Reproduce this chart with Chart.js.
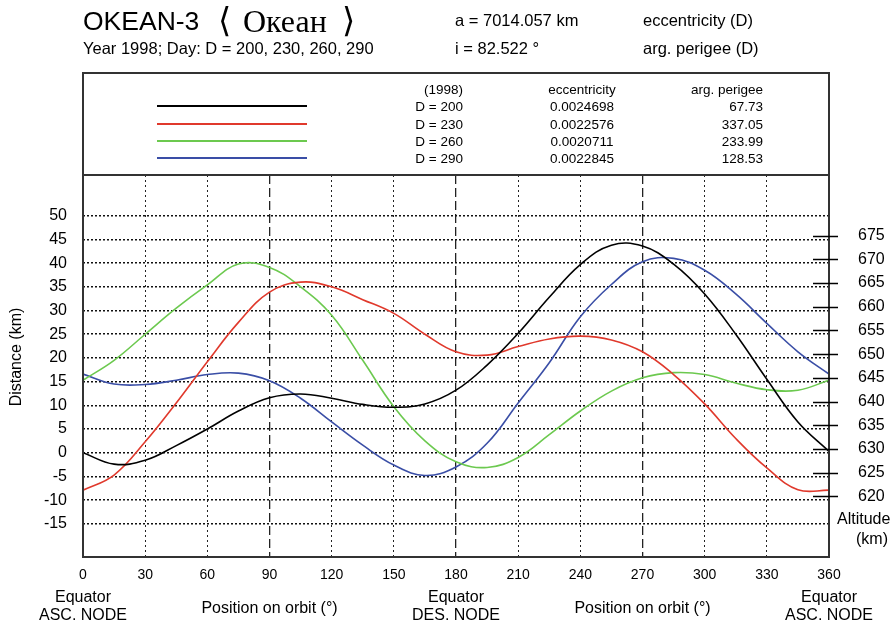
<!DOCTYPE html>
<html>
<head>
<meta charset="utf-8">
<script src="https://cdn.jsdelivr.net/npm/chart.js@4"></script>
<style>
  html, body { margin: 0; padding: 0; background: #fff; }
  #wrap { position: relative; width: 892px; height: 626px; overflow: hidden; }
  #c { position: absolute; left: 0; top: 0; }
  .t { position: absolute; white-space: nowrap; font-family: "Liberation Sans", Arial, sans-serif; color: #000; transform: translateY(-50%); }
  .r { transform: translate(-100%, -50%); }
  .m { transform: translate(-50%, -50%); }
  .sw { position: absolute; height: 2px; width: 150px; transform: translateY(-50%); }
</style>
</head>
<body>
<div id="wrap">
  <canvas id="c" width="892" height="626"></canvas>
  <div id="hdr"></div>
</div>
<script>
// position on orbit (deg)
var angles = [0, 15, 30, 45, 60, 75, 90, 105, 120, 135, 150, 165, 180, 195, 210, 225, 240, 255, 270, 285, 300, 315, 330, 345, 360];

// distance (km) per day
var d200 = [0, -2.4, -1.6, 1.5, 5, 8.8, 11.6, 12.4, 11.5, 10.2, 9.6, 10.3, 13.2, 18.5, 25.2, 32.8, 39.7, 43.8, 43.6, 39.8, 33.5, 25, 15.5, 6.5, 0.3];
var d230 = [-7.9, -4.7, 2.3, 10.5, 19.2, 27.5, 33.9, 36.0, 35.0, 32.3, 29.4, 25.0, 21.3, 20.6, 22.4, 24.0, 24.6, 23.8, 21.3, 16.5, 10.3, 3.0, -3.2, -7.8, -7.9];
var d260 = [15.3, 19.5, 25, 30.5, 35.4, 39.8, 39.1, 35, 29, 19.5, 9.7, 2.5, -1.9, -3.1, -1, 3.8, 8.8, 13, 15.8, 16.9, 16.5, 14.7, 13.3, 13.2, 15.3];
var d290 = [16.6, 14.5, 14.4, 15.3, 16.5, 16.8, 15.2, 11.5, 6.5, 1.6, -2.6, -4.8, -3.0, 2.0, 10.5, 19, 28.7, 35.5, 40.3, 41.0, 38.5, 33.5, 27.3, 21.3, 16.6];

var days = ["D = 200", "D = 230", "D = 260", "D = 290"];
var ecc = ["0.0024698", "0.0022576", "0.0020711", "0.0022845"];
var perigee = ["67.73", "337.05", "233.99", "128.53"];
var colors = ["#000000", "#e0392c", "#6cc94f", "#3a4ea6"];

var xTicks = [0, 30, 60, 90, 120, 150, 180, 210, 240, 270, 300, 330, 360];
var distTicks = [-15, -10, -5, 0, 5, 10, 15, 20, 25, 30, 35, 40, 45, 50];
var altTicks = [620, 625, 630, 635, 640, 645, 650, 655, 660, 665, 670, 675];
var altOffset = 629.2;
var yMin = -22, yMax = 58.6;

// header + legend table (html text)
var hdr = document.getElementById("hdr");
function txt(s, x, y, size, cls, extra) {
  var d = document.createElement("div");
  d.className = "t " + (cls || "");
  d.style.left = x + "px";
  d.style.top = y + "px";
  d.style.fontSize = size + "px";
  if (extra) d.style.cssText += extra;
  d.textContent = s;
  hdr.appendChild(d);
}
txt("OKEAN-3", 83, 21, 26.5);
txt("\u27E8", 218, 20, 34, "", "font-family:'DejaVu Serif',serif;");
txt("\u041E\u043A\u0435\u0430\u043D", 243, 21, 32, "", "font-family:'Liberation Serif',serif;");
txt("\u27E9", 342, 20, 34, "", "font-family:'DejaVu Serif',serif;");
txt("Year 1998; Day: D = 200, 230, 260, 290", 83, 48, 16.5);
txt("a = 7014.057 km", 455, 20, 16.5);
txt("i = 82.522 \u00B0", 455, 48, 16.5);
txt("eccentricity (D)", 643, 20, 16.5);
txt("arg. perigee (D)", 643, 48, 16.5);

txt("(1998)", 463, 89, 13.5, "r");
txt("eccentricity", 582, 89, 13.5, "m");
txt("arg. perigee", 763, 89, 13.5, "r");
var rowY = [106, 123.5, 140.5, 158];
for (var i = 0; i < days.length; i++) {
  txt(days[i], 463, rowY[i], 13.5, "r");
  txt(ecc[i], 582, rowY[i], 13.5, "m");
  txt(perigee[i], 763, rowY[i], 13.5, "r");
  var sw = document.createElement("div");
  sw.className = "sw";
  sw.style.left = "157px";
  sw.style.top = rowY[i] + "px";
  sw.style.background = colors[i];
  hdr.appendChild(sw);
}

function pts(arr) {
  return angles.map(function (a, k) { return { x: a, y: arr[k] }; });
}

var series = [d200, d230, d260, d290];
var datasets = series.map(function (s, k) {
  return {
    label: days[k],
    data: pts(s),
    borderColor: colors[k],
    backgroundColor: colors[k],
    borderWidth: 1.6,
    pointRadius: 0,
    fill: false,
    tension: 0.4
  };
});

var frame = {
  id: "frame",
  beforeDraw: function (chart) {
    var ctx = chart.ctx;
    ctx.save();
    ctx.fillStyle = "#fff";
    ctx.fillRect(0, 0, chart.width, chart.height);
    ctx.restore();
  },
  afterDraw: function (chart) {
    var ctx = chart.ctx, a = chart.chartArea;
    var xs = chart.scales.x, ys2 = chart.scales.y2;
    ctx.save();
    // frames
    ctx.strokeStyle = "#333";
    ctx.lineWidth = 2;
    ctx.strokeRect(a.left, 73, a.right - a.left, a.bottom - 73);
    ctx.beginPath();
    ctx.moveTo(a.left, a.top);
    ctx.lineTo(a.right, a.top);
    ctx.stroke();
    // altitude tick marks
    ctx.strokeStyle = "#000";
    ctx.lineWidth = 1.5;
    altTicks.forEach(function (v) {
      var y = Math.round(ys2.getPixelForValue(v)) + 0.5;
      ctx.beginPath();
      ctx.moveTo(a.right - 16, y);
      ctx.lineTo(a.right + 9, y);
      ctx.stroke();
    });
    // texts
    ctx.fillStyle = "#000";
    ctx.font = "16px 'Liberation Sans', Arial, sans-serif";
    ctx.textAlign = "center";
    ctx.textBaseline = "middle";
    var nodes = [[0, "ASC. NODE"], [180, "DES. NODE"], [360, "ASC. NODE"]];
    nodes.forEach(function (n) {
      var x = xs.getPixelForValue(n[0]);
      ctx.fillText("Equator", x, 598);
      ctx.fillText(n[1], x, 616);
    });
    [90, 270].forEach(function (v) {
      ctx.fillText("Position on orbit (\u00B0)", xs.getPixelForValue(v), 609);
    });
    ctx.textAlign = "left";
    ctx.fillText("Altitude", 837, 520);
    ctx.fillText("(km)", 856, 540);
    ctx.translate(17, 357);
    ctx.rotate(-Math.PI / 2);
    ctx.textAlign = "center";
    ctx.fillText("Distance (km)", 0, 0);
    ctx.restore();
  }
};

var ctx = document.getElementById("c").getContext("2d");
new Chart(ctx, {
  type: "line",
  data: { datasets: datasets },
  options: {
    responsive: false,
    animation: false,
    layout: { padding: { top: 175, left: 0, right: 0, bottom: 0 } },
    plugins: { legend: { display: false }, tooltip: { enabled: false } },
    scales: {
      x: {
        type: "linear",
        min: 0,
        max: 360,
        afterBuildTicks: function (s) { s.ticks = xTicks.map(function (v) { return { value: v }; }); },
        afterFit: function (s) { s.height = 69; },
        ticks: { padding: 10, color: "#000", maxRotation: 0, autoSkip: false, font: { size: 14, family: "'Liberation Sans', Arial, sans-serif" } },
        grid: {
          drawTicks: false,
          color: function (c) { return (c.tick && (c.tick.value === 0 || c.tick.value === 360)) ? "rgba(0,0,0,0)" : "#222"; },
          lineWidth: function (c) { return (c.tick && c.tick.value % 90 === 0) ? 1.3 : 1; }
        },
        border: {
          display: false,
          dash: function (c) { return (c.tick && c.tick.value % 90 === 0) ? [9, 4] : [2, 3]; }
        }
      },
      y: {
        type: "linear",
        position: "left",
        min: yMin,
        max: yMax,
        afterBuildTicks: function (s) { s.ticks = distTicks.map(function (v) { return { value: v }; }); },
        afterFit: function (s) { s.width = 83; },
        ticks: { padding: 16, color: "#000", font: { size: 16, family: "'Liberation Sans', Arial, sans-serif" } },
        grid: { drawTicks: false, color: "#111", lineWidth: 1.5 },
        border: { display: false, dash: [2, 2] }
      },
      y2: {
        type: "linear",
        position: "right",
        min: yMin + altOffset,
        max: yMax + altOffset,
        afterBuildTicks: function (s) { s.ticks = altTicks.map(function (v) { return { value: v }; }); },
        afterFit: function (s) { s.width = 63; },
        ticks: { padding: 29, color: "#000", font: { size: 16, family: "'Liberation Sans', Arial, sans-serif" } },
        grid: { display: false, drawTicks: false },
        border: { display: false }
      }
    }
  },
  plugins: [frame]
});
</script>
</body>
</html>
